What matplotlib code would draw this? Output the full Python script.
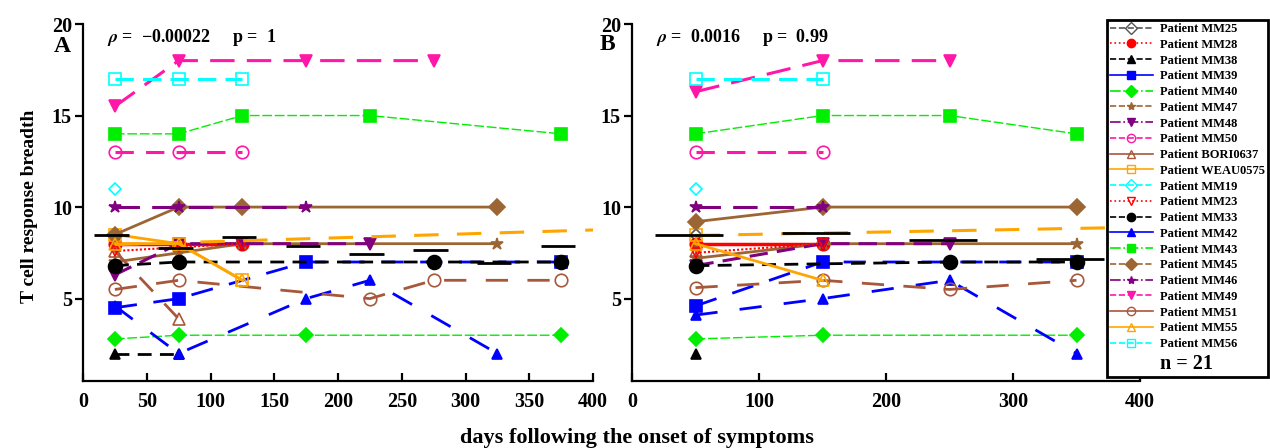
import matplotlib
matplotlib.use("Agg")
import matplotlib.pyplot as plt
from matplotlib.lines import Line2D
import numpy as np

nan = np.nan

# ---- data -------------------------------------------------------------
patients = ["MM25", "MM28", "MM38", "MM39", "MM40", "MM47", "MM48", "MM50",
            "BORI0637", "WEAU0575", "MM19", "MM23", "MM33", "MM42", "MM43",
            "MM45", "MM46", "MM49", "MM51", "MM55", "MM56"]

# panel A: 50-day bins
days_a = [25, 75, 125, 175, 225, 275, 325, 375]
a_MM25 = [8.5]
a_MM28 = [8.0, 8.0, 8.0]
a_MM38 = [2.0, 2.0]
a_MM39 = [4.5, 5.0, nan, 7.0, nan, nan, nan, 7.0]
a_MM40 = [2.8, 3.0, nan, 3.0, nan, nan, nan, 3.0]
a_MM47 = [7.0, 7.5, 8.0, nan, nan, nan, 8.0]
a_MM48 = [6.3, 8.0, 8.0, nan, 8.0]
a_MM50 = [13.0, 13.0, 13.0]
a_BORI0637 = [7.6, 3.9]
a_WEAU0575 = [8.5, 8.0, 6.0]
a_MM19 = [11.0]
a_MM23 = [7.6, 7.8, 8.0]
a_MM33 = [6.8, 7.0, nan, nan, nan, 7.0, nan, 7.0]
a_MM42 = [4.6, 2.0, nan, 5.0, 6.0, nan, 2.0]
a_MM43 = [14.0, 14.0, 15.0, nan, 15.0, nan, nan, 14.0]
a_MM45 = [8.5, 10.0, 10.0, nan, nan, nan, 10.0]
a_MM46 = [10.0, 10.0, nan, 10.0]
a_MM49 = [15.5, 18.0, nan, 18.0, nan, 18.0]
a_MM51 = [5.5, 6.0, nan, nan, 5.0, 6.0, nan, 6.0]
a_MM55 = [8.0, 8.0, 6.0]
a_MM56 = [17.0, 17.0, 17.0]
median_a = [8.45, 7.75, 8.35, 7.85, 7.45, 7.65, 6.95, 7.85]
fit_days_a = [25, 400]
fit_a = [7.95, 8.75]
rho_a, p_a = "\u22120.00022", "1"

# panel B: 100-day bins
days_b = [50, 150, 250, 350]
b_MM25 = [8.5]
b_MM28 = [8.0, 8.0]
b_MM38 = [2.0]
b_MM39 = [4.6, 7.0, nan, 7.0]
b_MM40 = [2.8, 3.0, nan, 3.0]
b_MM47 = [7.2, 8.0, nan, 8.0]
b_MM48 = [6.8, 8.0, 8.0]
b_MM50 = [13.0, 13.0]
b_BORI0637 = [7.6]
b_WEAU0575 = [8.5]
b_MM19 = [11.0]
b_MM23 = [7.5, 8.0]
b_MM33 = [6.8, nan, 7.0, 7.0]
b_MM42 = [4.1, 5.0, 6.0, 2.0]
b_MM43 = [14.0, 15.0, 15.0, 14.0]
b_MM45 = [9.2, 10.0, nan, 10.0]
b_MM46 = [10.0, 10.0]
b_MM49 = [16.3, 18.0, 18.0]
b_MM51 = [5.6, 6.0, 5.5, 6.0]
b_MM55 = [8.0, 6.0]
b_MM56 = [17.0, 17.0]
median_b = [8.5, 8.6, 8.2, 7.15]
fit_days_b = [50, 400]
fit_b = [8.45, 8.9]
rho_b, p_b = "0.0016", "0.99"

series_a = [a_MM25, a_MM28, a_MM38, a_MM39, a_MM40, a_MM47, a_MM48, a_MM50,
            a_BORI0637, a_WEAU0575, a_MM19, a_MM23, a_MM33, a_MM42, a_MM43,
            a_MM45, a_MM46, a_MM49, a_MM51, a_MM55, a_MM56]
series_b = [b_MM25, b_MM28, b_MM38, b_MM39, b_MM40, b_MM47, b_MM48, b_MM50,
            b_BORI0637, b_WEAU0575, b_MM19, b_MM23, b_MM33, b_MM42, b_MM43,
            b_MM45, b_MM46, b_MM49, b_MM51, b_MM55, b_MM56]

# ---- styles -----------------------------------------------------------
MAG = "#ff17a8"
BRN = "#9c6634"
SIE = "#a8583a"
GRN = "#00ee00"
colors = ["#555555", "red", "black", "blue", GRN, BRN, "purple", MAG,
          SIE, "orange", "cyan", "red", "black", "blue", GRN,
          BRN, "purple", MAG, SIE, "orange", "cyan"]
markers = ["D", "o", "^", "s", "D", "*", "v", "o", "^", "s", "D", "v",
           "o", "^", "s", "D", "*", "v", "o", "^", "s"]
filled = [False, True, True, True, True, True, True, False, False, False,
          False, False, True, True, True, True, True, True, False, False, False]
msizes = [6, 9, 7, 8, 7, 9, 8, 9, 8, 8, 6, 7, 10, 7, 8, 8, 9, 8, 9, 8, 8]
# (linewidth, dashes) used in the plot
plot_ls = [(1.5, (5, 3)), (2.5, None), (2, (5, 3)), (2, (8, 6)),
           (1.0, (7, 2)), (2, None), (2.2, (6, 3)), (2.2, (6, 4)),
           (2, (7, 6)), (2, None), (2, (6, 3)), (1.5, (1, 1)),
           (2, (5, 3)), (2, (8, 8)), (1.0, (7, 2)),
           (2, None), (2.2, (8, 4)), (2.2, (8, 4)), (2, (8, 7)),
           (2, None), (2.2, (6, 3))]
# linestyles shown in the legend
legend_ls = ["--", ":", "--", "-", "-.", "--", "-.", "--", "-", "-", "--",
             ":", "--", "-", "-.", "--", "-.", "--", "-", "-", "--"]

plt.rcParams["font.family"] = ["Liberation Serif", "DejaVu Serif"]
plt.rcParams["font.weight"] = "bold"
plt.rcParams["mathtext.fontset"] = "stix"

fig = plt.figure(figsize=(12.7, 4.48), dpi=100)
W, H = 1270, 448


def box(x0, x1, ytop, ybot):
    return [x0 / W, 1 - ybot / H, (x1 - x0) / W, (ybot - ytop) / H]


ax_a = fig.add_axes(box(83, 593, 24, 381))
ax_b = fig.add_axes(box(632, 1140, 24, 381))


def draw_panel(ax, days, series, medians, fit_x, fit_y, binw):
    for vals, c, m, f, ms, (lw, dash) in zip(series, colors, markers, filled,
                                              msizes, plot_ls):
        y = np.array(vals, dtype=float)
        x = np.array(days[:len(y)], dtype=float)
        ok = ~np.isnan(y)
        line, = ax.plot(x[ok], y[ok], color=c, lw=lw, marker=m, ms=ms,
                        mfc=c if f else "none", mec=c, mew=1.2)
        if dash is not None:
            line.set_dashes(dash)
    for d, med in zip(days, medians):
        ax.hlines(med, d - 0.32 * binw, d + 0.22 * binw, color="black",
                  lw=2, zorder=5)
    fit, = ax.plot(fit_x, fit_y, color="orange", lw=2.2, zorder=4)
    fit.set_dashes((8, 6))

    ax.set_xlim(0, 400)
    ax.set_ylim(0.5, 20)
    ax.set_yticks([5, 10, 15, 20])
    for s in ["top", "right"]:
        ax.spines[s].set_visible(False)
    for s in ["left", "bottom"]:
        ax.spines[s].set_linewidth(1.6)
    ax.tick_params(axis="y", direction="out", length=6, width=1.6,
                   labelsize=14.5, pad=2)
    ax.tick_params(axis="x", direction="in", length=6, width=1.6,
                   labelsize=14.5, pad=8)
    for lab in ax.get_xticklabels() + ax.get_yticklabels():
        lab.set_fontweight("bold")


draw_panel(ax_a, days_a, series_a, median_a, fit_days_a, fit_a, 50)
ax_a.set_xticks(np.arange(0, 401, 50))
draw_panel(ax_b, days_b, series_b, median_b, fit_days_b, fit_b, 100)
ax_b.set_xticks(np.arange(0, 401, 100))

fig.text(62 / W, 1 - 46 / H, "A", fontsize=17, fontweight="bold",
         ha="center", va="center")
fig.text(607 / W, 1 - 45 / H, "B", fontsize=17, fontweight="bold",
         ha="center", va="center")
fig.text(107 / W, 1 - 37 / H, r"$\rho$ =  " + rho_a + "     p =  " + p_a,
         fontsize=13, fontweight="bold", ha="left", va="center")
fig.text(656 / W, 1 - 37 / H, r"$\rho$ =  " + rho_b + "     p =  " + p_b,
         fontsize=13, fontweight="bold", ha="left", va="center")

fig.text(30 / W, 1 - 206 / H, "T cell response breadth", rotation=90,
         fontsize=14, fontweight="bold", ha="center", va="center")
fig.text(637 / W, 1 - 438 / H, "days following the onset of symptoms",
         fontsize=16, fontweight="bold", ha="center", va="center")

handles = []
for c, m, f, ls in zip(colors, markers, filled, legend_ls):
    handles.append(Line2D([], [], color=c, lw=1.2, ls=ls, marker=m, ms=6,
                          mfc=c if f else "none", mec=c))
handles.append(Line2D([], [], ls="none"))
labels = ["Patient " + p for p in patients] + ["n = " + str(len(patients))]
leg = fig.legend(handles, labels, loc="upper left",
                 bbox_to_anchor=(1107 / W, 1 - 20 / H), borderaxespad=0,
                 fontsize=9, labelspacing=0.3, handlelength=3.4,
                 handletextpad=0.6, borderpad=0.25, fancybox=False,
                 edgecolor="black", framealpha=1)
leg.get_frame().set_linewidth(2)
for t in leg.get_texts():
    t.set_fontweight("bold")
leg.get_texts()[-1].set_fontsize(14.5)

fig.savefig("out.png", dpi=100)
